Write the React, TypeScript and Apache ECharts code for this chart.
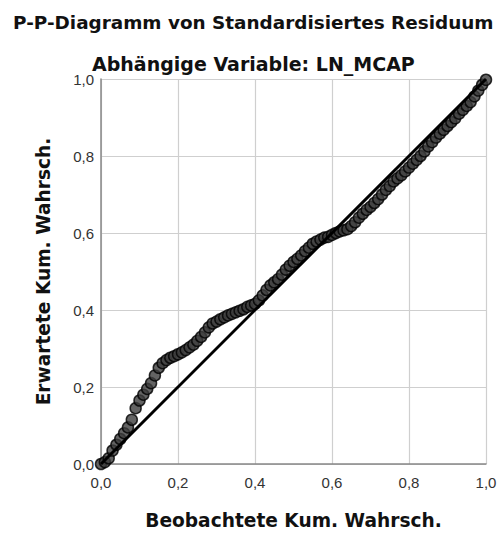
import React, { useEffect, useRef } from "react";
import * as echarts from "echarts";

const titleText = "P-P-Diagramm von Standardisiertes Residuum";
const subtitleText = "Abhängige Variable: LN_MCAP";
const xAxisName = "Beobachtete Kum. Wahrsch.";
const yAxisName = "Erwartete Kum. Wahrsch.";

// observed cumulative probability
const observed = [
  0.0, 0.01, 0.02, 0.03, 0.04, 0.05, 0.06, 0.07, 0.08, 0.09,
  0.1, 0.11, 0.12, 0.13, 0.14, 0.15, 0.16, 0.17, 0.18, 0.19,
  0.2, 0.21, 0.22, 0.23, 0.24, 0.25, 0.26, 0.27, 0.28, 0.29,
  0.3, 0.31, 0.32, 0.33, 0.34, 0.35, 0.36, 0.37, 0.38, 0.39,
  0.4, 0.41, 0.42, 0.43, 0.44, 0.45, 0.46, 0.47, 0.48, 0.49,
  0.5, 0.51, 0.52, 0.53, 0.54, 0.55, 0.56, 0.57, 0.58, 0.59,
  0.6, 0.61, 0.62, 0.63, 0.64, 0.65, 0.66, 0.67, 0.68, 0.69,
  0.7, 0.71, 0.72, 0.73, 0.74, 0.75, 0.76, 0.77, 0.78, 0.79,
  0.8, 0.81, 0.82, 0.83, 0.84, 0.85, 0.86, 0.87, 0.88, 0.89,
  0.9, 0.91, 0.92, 0.93, 0.94, 0.95, 0.96, 0.97, 0.98, 0.99, 1.0,
];

// expected cumulative probability
const expected = [
  0.0, 0.005, 0.015, 0.035, 0.05, 0.065, 0.08, 0.095, 0.115, 0.145,
  0.165, 0.18, 0.195, 0.21, 0.23, 0.25, 0.262, 0.27, 0.276, 0.28,
  0.285, 0.29, 0.296, 0.303, 0.31, 0.32, 0.33, 0.342, 0.355, 0.365,
  0.37, 0.376, 0.381, 0.386, 0.39, 0.394, 0.398, 0.402, 0.408, 0.412,
  0.416, 0.425, 0.438, 0.452, 0.464, 0.472, 0.48, 0.492, 0.505, 0.515,
  0.525, 0.533, 0.542, 0.553, 0.562, 0.572, 0.578, 0.583, 0.588, 0.59,
  0.595, 0.6, 0.604, 0.607, 0.61, 0.618, 0.628, 0.64, 0.65, 0.66,
  0.668, 0.678, 0.688, 0.7, 0.712, 0.722, 0.734, 0.742, 0.75, 0.76,
  0.77, 0.78, 0.79, 0.8, 0.812, 0.825, 0.836, 0.848, 0.858, 0.868,
  0.878, 0.888, 0.898, 0.91, 0.92, 0.93, 0.94, 0.955, 0.97, 0.985, 0.998,
];

const refLine = [
  [0, 0],
  [1, 1],
];

const FONT = "'Liberation Sans', Arial, sans-serif";
const BOLD_FONT = "'DejaVu Sans', sans-serif";

export default function App() {
  const ref = useRef<HTMLDivElement>(null);
  useEffect(() => {
    if (!ref.current) return;
    const chart = echarts.init(ref.current, undefined, { renderer: "svg" });
    const points = observed.map((x, i) => [x, expected[i]]);
    const axisLabelFmt = (v: number) => v.toFixed(1).replace(".", ",");
    const headStyle = { fontFamily: BOLD_FONT, fontSize: 18.4, fontWeight: "bold", color: "#111" };
    chart.setOption({
      animation: false,
      backgroundColor: "#ffffff",
      title: [
        { text: titleText, left: 8, top: 8, textStyle: headStyle },
        { text: subtitleText, left: 87, top: 49, textStyle: { ...headStyle, fontSize: 19 } },
      ],
      grid: { left: 101, top: 79, right: 14, bottom: 71 },
      xAxis: {
        type: "value",
        min: 0,
        max: 1,
        interval: 0.2,
        name: xAxisName,
        nameLocation: "middle",
        nameGap: 47,
        nameTextStyle: { ...headStyle, fontSize: 18.6 },
        axisLine: { show: true, lineStyle: { color: "#888", width: 1.5 } },
        axisTick: { show: false },
        axisLabel: { formatter: axisLabelFmt, fontFamily: FONT, fontSize: 15, color: "#333", margin: 11 },
        splitLine: { show: true, lineStyle: { color: "#cfcfcf", width: 1.2 } },
      },
      yAxis: {
        type: "value",
        min: 0,
        max: 1,
        interval: 0.2,
        name: yAxisName,
        nameLocation: "middle",
        nameRotate: 90,
        nameGap: 48,
        nameTextStyle: { ...headStyle, fontSize: 18.6 },
        axisLine: { show: true, lineStyle: { color: "#888", width: 1.5 } },
        axisTick: { show: false },
        axisLabel: {
          formatter: axisLabelFmt,
          fontFamily: FONT,
          fontSize: 15,
          color: "#333",
          margin: 7,
          padding: [8, 0, 0, 0],
        },
        splitLine: { show: true, lineStyle: { color: "#cfcfcf", width: 1.2 } },
      },
      series: [
        {
          type: "scatter",
          data: points,
          symbol: "circle",
          symbolSize: 11,
          itemStyle: { color: "#3c3c3c", borderColor: "#000", borderWidth: 1.5 },
          z: 2,
        },
        {
          type: "line",
          data: refLine,
          symbol: "none",
          lineStyle: { color: "#000", width: 3 },
          z: 3,
        },
      ],
    });
    return () => chart.dispose();
  }, []);
  return (
    <div
      ref={ref}
      style={{ position: "absolute", left: 0, top: 0, width: 500, height: 535 }}
    />
  );
}
